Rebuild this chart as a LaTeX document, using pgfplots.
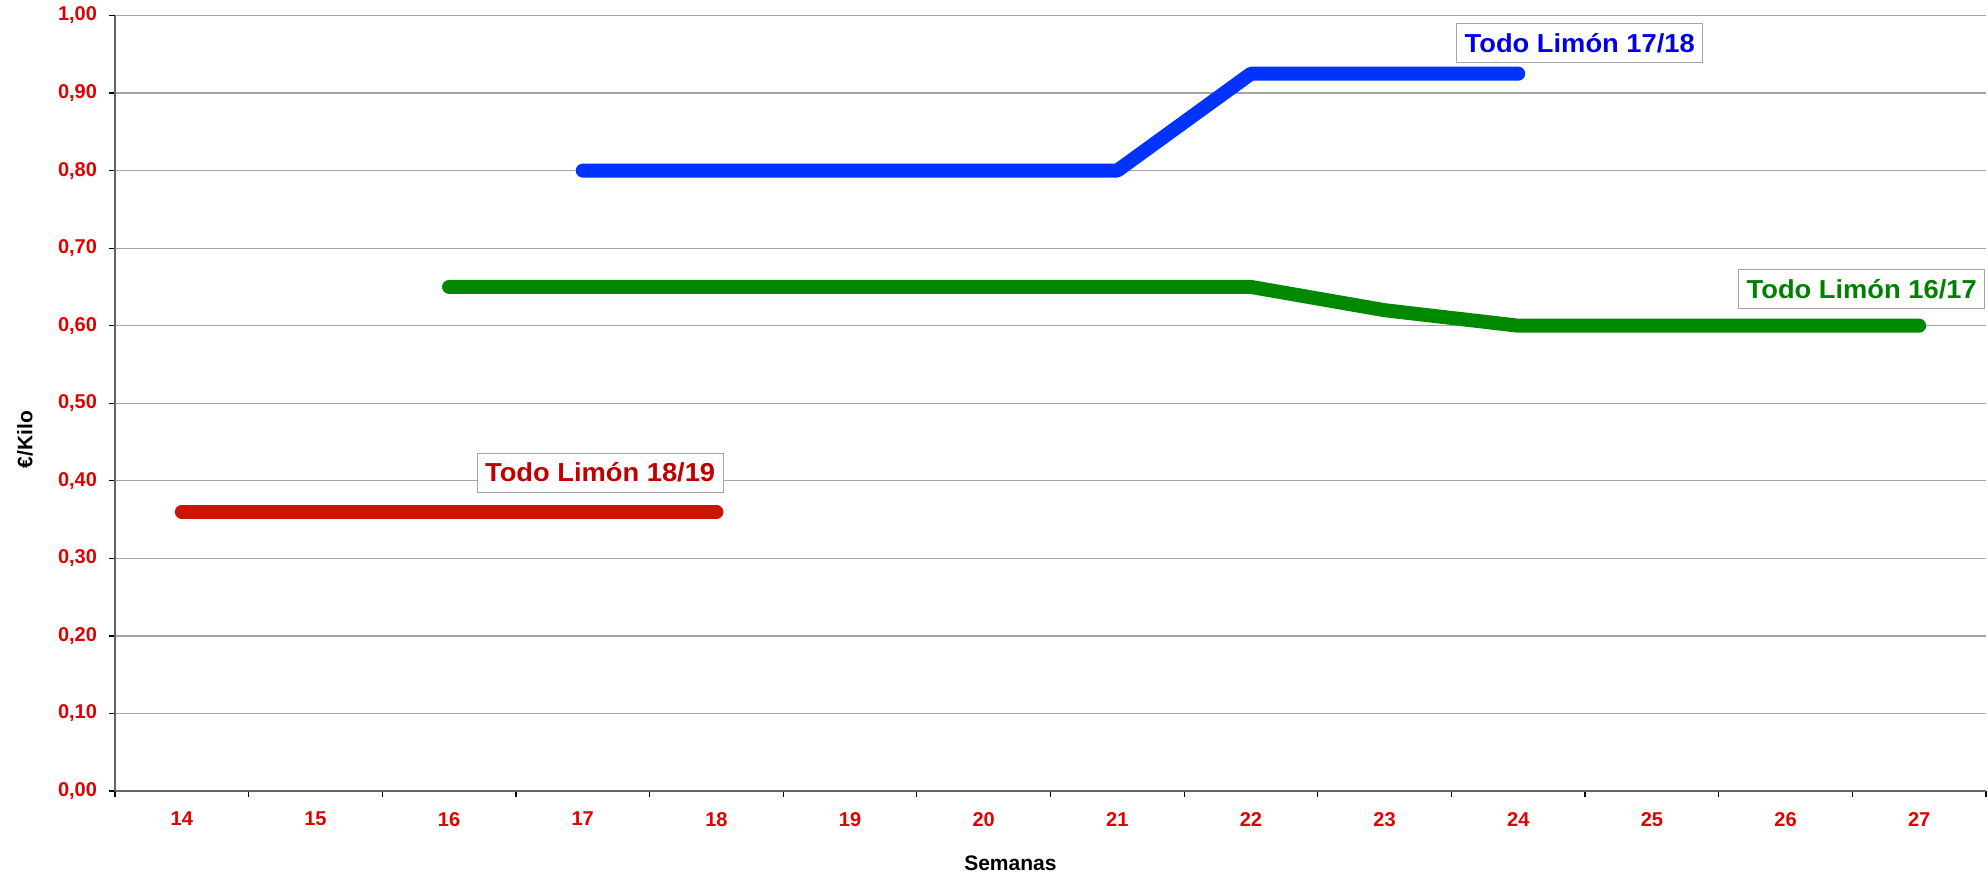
\documentclass[border=0pt]{standalone}
\usepackage{pgfplots}
\pgfplotsset{compat=1.18}
\usepackage{fontspec}
\setmainfont{Liberation Sans}
\newfontfamily\lblfont[FakeStretch=1.05]{Liberation Sans}
\definecolor{tickred}{RGB}{224,0,0}
\definecolor{lblue}{RGB}{0,51,255}
\definecolor{tblue}{RGB}{0,0,230}
\definecolor{lgreen}{RGB}{0,136,0}
\definecolor{tgreen}{RGB}{0,128,0}
\definecolor{lred}{RGB}{204,20,0}
\definecolor{tred}{RGB}{192,0,0}
\definecolor{gridgray}{RGB}{165,165,165}
\definecolor{axgray}{RGB}{100,100,100}
\tikzset{lbl/.style={draw=gridgray, fill=white, font=\lblfont\fontsize{13}{15}\selectfont\bfseries, inner sep=0pt, minimum width=123pt, minimum height=19.5pt, text height=9.4pt, text depth=0pt}}
\begin{document}
\begin{tikzpicture}
\useasboundingbox (-57.5pt,-42pt) rectangle (936.5pt,395.5pt);
\begin{axis}[
  at={(0,0)}, anchor=south west,
  scale only axis, width=935.5pt, height=387.75pt,
  xmin=13.5, xmax=27.5, ymin=0, ymax=1,
  axis x line*=bottom, axis y line*=left,
  axis line style={axgray, line width=0.8pt, -},
  xtick={14,...,27},
  minor xtick={13.5,14.5,...,27.5},
  major x tick style={draw=none},
  minor x tick style={black, line width=0.6pt},
  ytick={0,0.1,...,1.0},
  y tick style={black, line width=0.6pt},
  tick align=outside,
  major tick length=3pt, minor tick length=3pt,
  ymajorgrids, grid style={gridgray, line width=0.6pt},
  /pgf/number format/assume math mode=true,
  ticklabel style={font=\fontsize{10}{12}\selectfont\bfseries, text=tickred},
  yticklabel style={xshift=-2.5pt, /pgf/number format/.cd, fixed, fixed zerofill, precision=2, use comma},
  xticklabel style={yshift=-4pt, /pgf/number format/.cd, int detect},
  clip=false,
]
\addplot[lred, line width=7pt, line cap=round, line join=round] coordinates {
(14,0.36) (15,0.36) (16,0.36) (17,0.36) (18,0.36)};
\addplot[lgreen, line width=7pt, line cap=round, line join=round] coordinates {
(16,0.65) (17,0.65) (18,0.65) (19,0.65) (20,0.65) (21,0.65) (22,0.65) (23,0.62) (24,0.60) (25,0.60) (26,0.60) (27,0.60)};
\addplot[lblue, line width=7pt, line cap=round, line join=round] coordinates {
(17,0.80) (18,0.80) (19,0.80) (20,0.80) (21,0.80) (22,0.925) (23,0.925) (24,0.925)};
\node[lbl, text=tblue] at (axis cs:24.46,0.965) {Todo Limón 17/18};
\node[lbl, text=tgreen] at (axis cs:26.57,0.6476) {Todo Limón 16/17};
\node[lbl, text=tred] at (axis cs:17.13,0.4107) {Todo Limón 18/19};
\node[font=\fontsize{10.5}{12}\selectfont\bfseries] at (axis cs:20.2,-0.0928) {Semanas};
\node[rotate=90, font=\fontsize{10.5}{12}\selectfont\bfseries] at (axis cs:12.826,0.453) {€/Kilo};
\end{axis}
\end{tikzpicture}
\end{document}
